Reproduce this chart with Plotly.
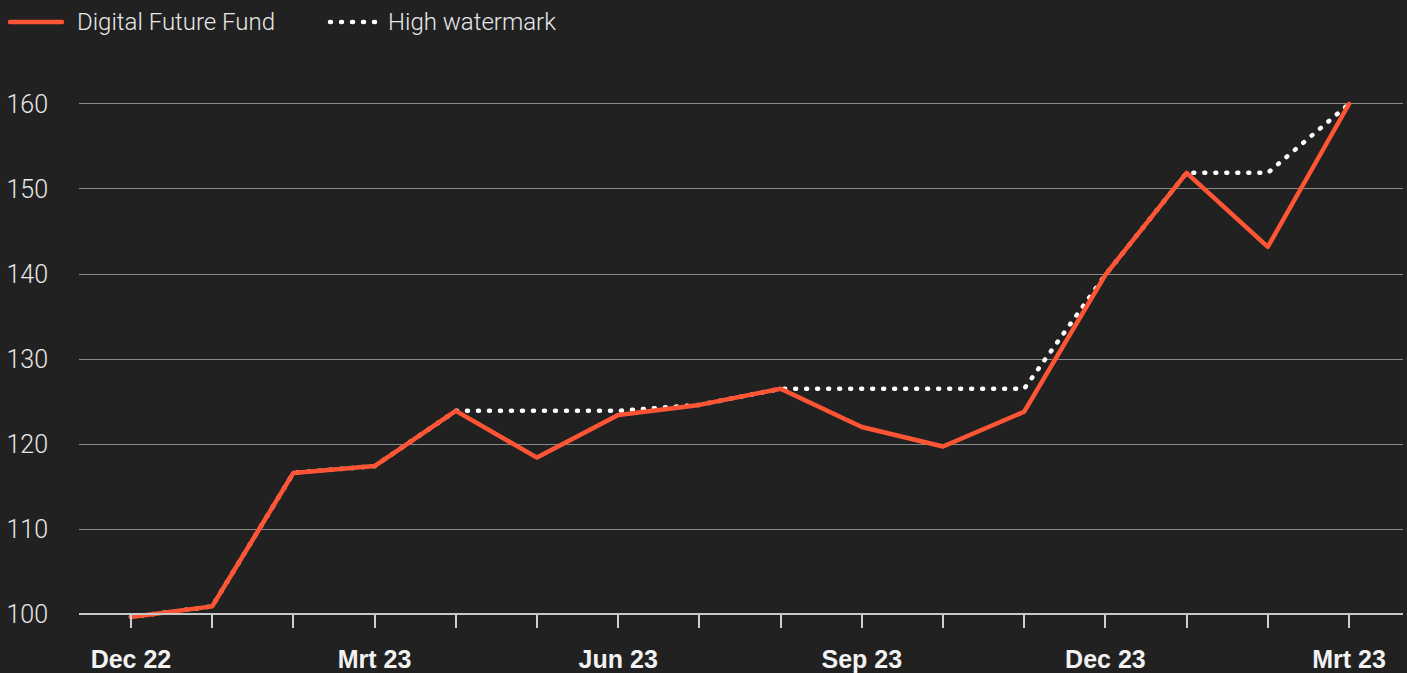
import plotly.graph_objects as go

months = ["Dec 22", "Jan 23", "Feb 23", "Mrt 23", "Apr 23", "Mei 23", "Jun 23", "Jul 23",
          "Aug 23", "Sep 23", "Okt 23", "Nov 23", "Dec 23", "Jan 24", "Feb 24", "Mrt 24"]
tick_labels = ["Dec 22", "", "", "Mrt 23", "", "", "Jun 23", "", "", "Sep 23", "", "",
               "Dec 23", "", "", "Mrt 23"]
fund = [99.65, 100.9, 116.6, 117.4, 123.9, 118.4, 123.4, 124.6,
        126.5, 122.0, 119.7, 123.8, 139.9, 151.9, 143.2, 160.0]
high_watermark = [99.65, 100.9, 116.6, 117.4, 123.9, 123.9, 123.9, 124.6,
                  126.5, 126.5, 126.5, 126.5, 139.9, 151.9, 151.9, 160.0]
y_ticks = [100, 110, 120, 130, 140, 150, 160]

RED = "#FF5535"
BG = "#212121"
TXT = "#E8E8E8"
FONT = "Liberation Sans, Arial, sans-serif"
LIGHT = "Roboto, Liberation Sans, Arial, sans-serif"

fig = go.Figure()
fig.add_trace(go.Scatter(x=months, y=high_watermark, mode="lines", name="High watermark",
                         line=dict(color="#FFFFFF", width=4.5, dash="1px,10px"),
                         hoverinfo="skip", showlegend=False))
fig.add_trace(go.Scatter(x=months, y=fund, mode="lines", name="Digital Future Fund",
                         line=dict(color=RED, width=4.5), showlegend=False))

W, H = 1407, 673
L, R, T, B = 79, 4, 45, 51
pw = W - L - R
ph = H - T - B

def px_x(p):
    return (p - L) / pw

def px_y(p):
    return 1 - (p - T) / ph

ylo, yhi = 99.06, 166.94
leg_y = px_y(22)

fig.update_layout(
    width=W, height=H,
    margin=dict(l=L, r=R, t=T, b=B, autoexpand=False),
    paper_bgcolor=BG, plot_bgcolor=BG,
    font=dict(family=FONT, color=TXT, size=24),
    showlegend=False,
    xaxis=dict(
        type="category",
        categoryorder="array", categoryarray=months,
        range=[-0.64, 15.665],
        tickmode="array", tickvals=months, ticktext=tick_labels,
        ticks="outside", ticklen=13, tickwidth=1.5, tickcolor="#CFCFCF",
        tickfont=dict(family=FONT, size=25, color="#F2F2F2", weight="bold"),
        ticklabelstandoff=10,
        showgrid=False, zeroline=False,
        showline=True, linecolor="#C8C8C8", linewidth=1.5,
        anchor="free", position=(100 - ylo) / (yhi - ylo),
        automargin=False,
    ),
    yaxis=dict(
        range=[ylo, yhi],
        tickmode="array", tickvals=y_ticks,
        ticks="", showline=False, zeroline=False,
        showgrid=True, gridcolor="#8A8A8A", gridwidth=1.2,
        tickfont=dict(family=LIGHT, size=25, color=TXT, weight=300),
        ticklabelstandoff=30,
        automargin=False,
    ),
    shapes=[
        dict(type="line", xref="paper", yref="paper", x0=px_x(10), x1=px_x(62),
             y0=leg_y, y1=leg_y, line=dict(color=RED, width=4.5)),
        dict(type="line", xref="paper", yref="paper", x0=px_x(330), x1=px_x(377),
             y0=leg_y, y1=leg_y, line=dict(color="#FFFFFF", width=4.5, dash="1px,10px")),
    ],
    annotations=[
        dict(text="Digital Future Fund", xref="paper", yref="paper", x=px_x(75), y=leg_y,
             xanchor="left", yanchor="middle", showarrow=False,
             font=dict(family=LIGHT, size=24, color=TXT, weight=300)),
        dict(text="High watermark", xref="paper", yref="paper", x=px_x(386), y=leg_y,
             xanchor="left", yanchor="middle", showarrow=False,
             font=dict(family=LIGHT, size=24, color=TXT, weight=300)),
    ],
)

fig.write_html(
    "out.html",
    config={"displayModeBar": False},
    post_script=(
        "document.body.style.margin='0';document.body.style.padding='0';"
        "document.body.style.overflow='hidden';"
        "var st=document.createElement('style');"
        "st.textContent='.js-line, .shapelayer path{stroke-linecap:round !important;stroke-linejoin:round !important;}';"
        "document.head.appendChild(st);"
    ),
)
